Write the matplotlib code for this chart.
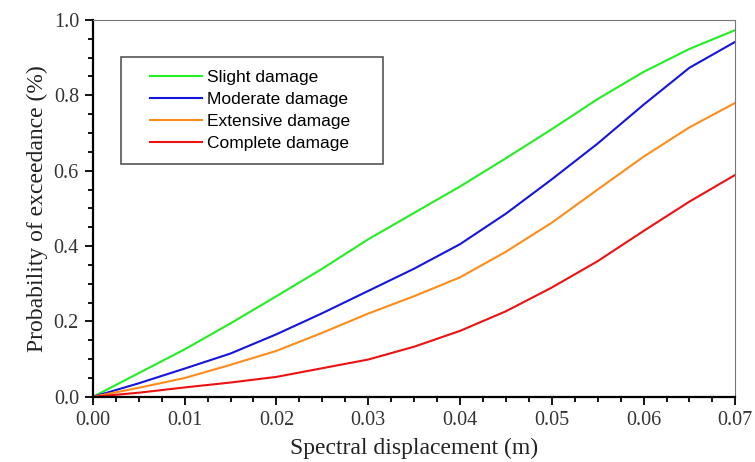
import numpy as np
import matplotlib.pyplot as plt
from matplotlib.ticker import MultipleLocator
from matplotlib.lines import Line2D
from matplotlib.legend_handler import HandlerLine2D

# spectral displacement (m)
sd = [0.0, 0.005, 0.01, 0.015, 0.02, 0.025, 0.03, 0.035,
      0.04, 0.045, 0.05, 0.055, 0.06, 0.065, 0.07]

# probability of exceedance
slight = [0.0, 0.063, 0.126, 0.195, 0.267, 0.340, 0.418, 0.488,
          0.558, 0.633, 0.710, 0.790, 0.862, 0.923, 0.973]
moderate = [0.0, 0.036, 0.075, 0.115, 0.166, 0.222, 0.281, 0.340,
            0.405, 0.486, 0.577, 0.672, 0.775, 0.873, 0.942]
extensive = [0.0, 0.024, 0.050, 0.085, 0.122, 0.170, 0.221, 0.267,
             0.317, 0.385, 0.462, 0.550, 0.637, 0.715, 0.780]
complete = [0.0, 0.011, 0.025, 0.038, 0.053, 0.076, 0.099, 0.133,
            0.175, 0.227, 0.290, 0.360, 0.440, 0.518, 0.589]

labels = ['Slight damage', 'Moderate damage', 'Extensive damage', 'Complete damage']
colors = ['#22ee22', '#1515dd', '#ff8c1a', '#ee1111']

fig = plt.figure(figsize=(7.55, 4.62), dpi=100)
ax = fig.add_axes([0.123, 0.141, 0.851, 0.816])

for y, lab, c in zip([slight, moderate, extensive, complete], labels, colors):
    ax.plot(sd, y, color=c, lw=1.5, label=lab)

ax.set_xlim(0, 0.07)
ax.set_ylim(0, 1.0)
ax.xaxis.set_major_locator(MultipleLocator(0.01))
ax.xaxis.set_minor_locator(MultipleLocator(0.0025))
ax.yaxis.set_major_locator(MultipleLocator(0.2))
ax.yaxis.set_minor_locator(MultipleLocator(0.05))
ax.xaxis.set_major_formatter(plt.FormatStrFormatter('%.2f'))
ax.yaxis.set_major_formatter(plt.FormatStrFormatter('%.1f'))

ax.tick_params(which='both', direction='out', top=False, right=False,
               width=1.3, color='black')
ax.tick_params(which='major', length=6, labelsize=14.5, pad=4, labelcolor='#333333')
ax.tick_params(which='minor', length=3.5)
for lab in ax.get_xticklabels() + ax.get_yticklabels():
    lab.set_family('Liberation Serif')

ax.spines['left'].set_linewidth(1.6)
ax.spines['bottom'].set_linewidth(1.6)
ax.spines['top'].set_color('#777777')
ax.spines['right'].set_color('#777777')

ax.set_xlabel('Spectral displacement (m)', family='Liberation Serif', fontsize=17,
              labelpad=6, color='#222222')
ax.set_ylabel('Probability of exceedance (%)', family='Liberation Serif', fontsize=17,
              labelpad=4, color='#222222')

leg = ax.legend(loc='upper left', bbox_to_anchor=(0.0436, 0.613, 0.408, 0.289),
                mode='expand', borderaxespad=0,
                prop={'family': 'Liberation Sans', 'size': 12.5},
                handler_map={Line2D: HandlerLine2D(xpad=0.9)},
                handlelength=3.9, handletextpad=0.3, labelspacing=0.4,
                borderpad=0.75, fancybox=False, framealpha=1)
leg.get_frame().set_edgecolor('#555555')
leg.get_frame().set_linewidth(1.2)

fig.savefig('out.png', dpi=100)
